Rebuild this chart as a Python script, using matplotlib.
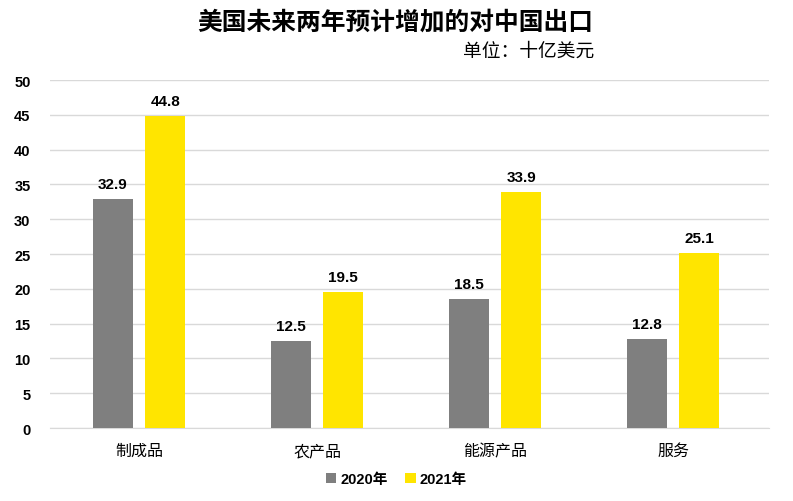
import numpy as np
import matplotlib
matplotlib.use("Agg")
import matplotlib.pyplot as plt

plt.rcParams['font.family'] = ['Liberation Sans', 'Noto Sans CJK SC', 'DejaVu Sans']

# ===== DATA =====
categories = ["制成品", "农产品", "能源产品", "服务"]
years = ["2020年", "2021年"]
vals_2020 = [32.9, 12.5, 18.5, 12.8]
vals_2021 = [44.8, 19.5, 33.9, 25.1]
yticks = [0, 5, 10, 15, 20, 25, 30, 35, 40, 45, 50]

GRAY = "#7f7f7f"
YELLOW = "#ffe500"

fig = plt.figure(figsize=(7.93, 5.02), dpi=100)
ax = fig.add_axes([0.063, 0.1454, 0.907, 0.6932])

x = np.arange(len(categories))
w = 0.226
off = 0.147
b1 = ax.bar(x - off, vals_2020, w, color=GRAY, label=years[0], zorder=3)
b2 = ax.bar(x + off, vals_2021, w, color=YELLOW, label=years[1], zorder=3)

for bars in (b1, b2):
    for r in bars:
        ax.text(r.get_x() + r.get_width() / 2, r.get_height() + 1.2, f"{r.get_height():.1f}",
                ha="center", va="bottom", fontsize=11, fontweight="bold")

ax.set_xlim(-0.5, 3.54)
ax.set_ylim(0, 50)
ax.set_yticks(yticks)
ax.set_yticklabels([str(t) for t in yticks], fontsize=10.5, fontweight="bold")
ax.set_xticks(x)
ax.set_xticklabels(categories, fontsize=11.5, family=['Noto Sans CJK SC'])
ax.tick_params(axis="both", length=0)
ax.tick_params(axis="x", pad=10)
ax.tick_params(axis="y", pad=14)
ax.grid(axis="y", color="#d9d9d9", linewidth=1, zorder=0)
for s in ["top", "right", "left"]:
    ax.spines[s].set_visible(False)
ax.spines["bottom"].set_color("#d9d9d9")

fig.text(0.498, 0.955, "美国未来两年预计增加的对中国出口", ha="center", va="center",
         fontsize=17.8, fontweight="bold", family=['Noto Sans CJK SC'])
fig.text(0.749, 0.898, "单位：十亿美元", ha="right", va="center",
         fontsize=13.5, family=['Noto Sans CJK SC'])

leg = fig.legend(handles=[b1, b2], labels=years, loc="center", bbox_to_anchor=(0.5, 0.043),
                 ncol=2, frameon=False, handlelength=0.7, handleheight=0.7,
                 handletextpad=0.3, columnspacing=1.2, prop={'size': 10.5, 'weight': 'bold'})

fig.savefig("out.png", dpi=100)
